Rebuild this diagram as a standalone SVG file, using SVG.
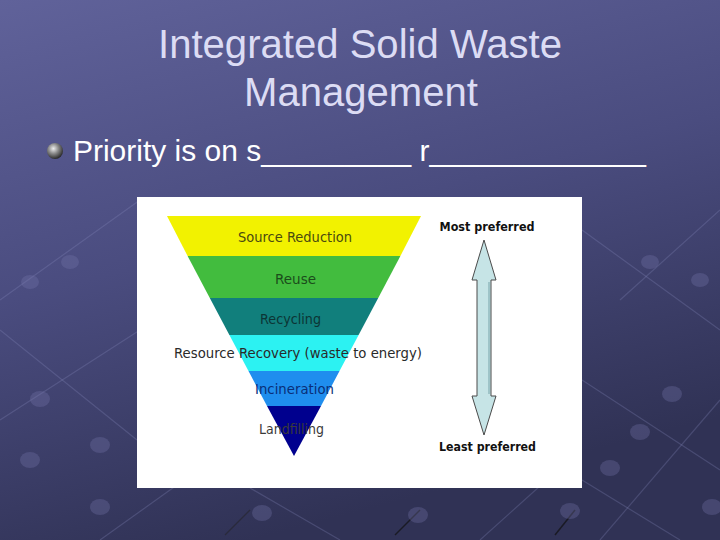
<svg xmlns="http://www.w3.org/2000/svg" width="720" height="540" viewBox="0 0 720 540">
<defs>
<linearGradient id="bg" x1="0" y1="0" x2="0.35" y2="1">
<stop offset="0" stop-color="#60629a"/>
<stop offset="0.5" stop-color="#4a4c7f"/>
<stop offset="1" stop-color="#303255"/>
</linearGradient>
<radialGradient id="ball" cx="0.4" cy="0.35" r="0.7">
<stop offset="0" stop-color="#eeeeee"/>
<stop offset="0.45" stop-color="#8a8a8a"/>
<stop offset="1" stop-color="#1e1e1e"/>
</radialGradient>
<style>
.title{font-family:"Liberation Sans",Arial,sans-serif;font-size:40px;fill:#dcdcf4;text-anchor:middle}
.bullet{font-family:"Liberation Sans",Arial,sans-serif;font-size:30px;fill:#ffffff}
.lbl{font-family:"DejaVu Sans",Verdana,sans-serif;font-size:14px;text-anchor:middle}
.pref{font-family:"DejaVu Sans",Verdana,sans-serif;font-size:12px;font-weight:bold;fill:#111;text-anchor:middle}
.deco{stroke:#8a8cc0;stroke-width:1.2;fill:none;opacity:0.28}
.dot{fill:#7577aa;opacity:0.32}
</style>
</defs>
<rect width="720" height="540" fill="url(#bg)"/>
<g id="background-decoration">
<line class="deco" x1="0" y1="300" x2="140" y2="200"/>
<line class="deco" x1="0" y1="420" x2="140" y2="330"/>
<line class="deco" x1="100" y1="540" x2="240" y2="440"/>
<line class="deco" x1="480" y1="540" x2="580" y2="450"/>
<line class="deco" x1="600" y1="540" x2="720" y2="400"/>
<line class="deco" x1="620" y1="300" x2="720" y2="210"/>
<line class="deco" x1="0" y1="330" x2="137" y2="440"/>
<line class="deco" x1="582" y1="230" x2="720" y2="330"/>
<line class="deco" x1="582" y1="380" x2="720" y2="470"/>
<line class="deco" x1="250" y1="488" x2="340" y2="540"/>
<line class="deco" x1="582" y1="480" x2="680" y2="540"/>
<line x1="395" y1="535" x2="420" y2="510" stroke="#111" stroke-width="1.5" opacity="0.7"/>
<line x1="555" y1="535" x2="575" y2="510" stroke="#111" stroke-width="1.5" opacity="0.7"/>
<line x1="225" y1="535" x2="250" y2="510" stroke="#222" stroke-width="1.2" opacity="0.5"/>
<ellipse class="dot" cx="40" cy="399" rx="10" ry="8"/>
<ellipse class="dot" cx="30" cy="460" rx="10" ry="8"/>
<ellipse class="dot" cx="100" cy="445" rx="10" ry="8"/>
<ellipse class="dot" cx="100" cy="507" rx="10" ry="8"/>
<ellipse class="dot" cx="262" cy="513" rx="10" ry="8"/>
<ellipse class="dot" cx="418" cy="515" rx="10" ry="8"/>
<ellipse class="dot" cx="570" cy="511" rx="10" ry="8"/>
<ellipse class="dot" cx="610" cy="468" rx="10" ry="8"/>
<ellipse class="dot" cx="640" cy="432" rx="10" ry="8"/>
<ellipse class="dot" cx="672" cy="394" rx="10" ry="8"/>
<ellipse class="dot" cx="712" cy="507" rx="10" ry="8"/>
<ellipse class="dot" cx="650" cy="262" rx="9" ry="7"/>
<ellipse class="dot" cx="700" cy="280" rx="9" ry="7"/>
<ellipse class="dot" cx="30" cy="282" rx="9" ry="7"/>
<ellipse class="dot" cx="70" cy="262" rx="9" ry="7"/>
</g>
<g id="title">
<text class="title" x="360" y="58" textLength="404" lengthAdjust="spacingAndGlyphs">Integrated Solid Waste</text>
<text class="title" x="361" y="106" textLength="234" lengthAdjust="spacingAndGlyphs">Management</text>
</g>
<g id="bullet">
<circle cx="55" cy="151" r="8" fill="url(#ball)"/>
<text class="bullet" x="73" y="161" textLength="573" lengthAdjust="spacingAndGlyphs">Priority is on s_________ r_____________</text>
</g>
<g id="picture">
<rect x="137" y="197" width="445" height="291" fill="#ffffff"/>
</g>
<g id="pyramid">
<g id="source-reduction">
<polygon points="167,216 421,216 400.4,256 187.6,256" fill="#f2f200"/>
<text class="lbl" x="295" y="242" textLength="114" lengthAdjust="spacingAndGlyphs" fill="#4a4a10">Source Reduction</text>
</g>
<g id="reuse">
<polygon points="187.6,256 400.4,256 378.2,298 209.8,298" fill="#42bc3e"/>
<text class="lbl" x="295.5" y="284" textLength="41" lengthAdjust="spacingAndGlyphs" fill="#1b4d1b">Reuse</text>
</g>
<g id="recycling">
<polygon points="209.8,298 378.2,298 358.6,335 229.4,335" fill="#117f7c"/>
<text class="lbl" x="290.5" y="324" textLength="61" lengthAdjust="spacingAndGlyphs" fill="#0c3535">Recycling</text>
</g>
<g id="resource-recovery">
<polygon points="229.4,335 358.6,335 339.5,371 248.5,371" fill="#2cf2f2"/>
<text class="lbl" x="298" y="358" textLength="248" lengthAdjust="spacingAndGlyphs" fill="#2a2a2a">Resource Recovery (waste to energy)</text>
</g>
<g id="incineration">
<polygon points="248.5,371 339.5,371 321,406 267,406" fill="#1f8eee"/>
<text class="lbl" x="294.5" y="394" textLength="79" lengthAdjust="spacingAndGlyphs" fill="#0a2f78">Incineration</text>
</g>
<g id="landfilling">
<polygon points="267,406 321,406 294,456" fill="#00008e"/>
<text class="lbl" x="291.5" y="434" textLength="65" lengthAdjust="spacingAndGlyphs" fill="#3a3a3a">Landfilling</text>
</g>
</g>
<g id="most-preferred">
<text class="pref" x="487" y="231" textLength="95" lengthAdjust="spacingAndGlyphs">Most preferred</text>
</g>
<g id="least-preferred">
<text class="pref" x="487.5" y="451" textLength="97" lengthAdjust="spacingAndGlyphs">Least preferred</text>
</g>
<g id="connectors">
<polygon points="484,240 496,280 491,280 491,396 496,396 484,435 472,396 477,396 477,280 472,280" fill="#c6e4e6" stroke="#4a4a4a" stroke-width="1"/>
<line x1="489" y1="282" x2="489" y2="394" stroke="#9ec4c8" stroke-width="2"/>
</g>
</svg>
